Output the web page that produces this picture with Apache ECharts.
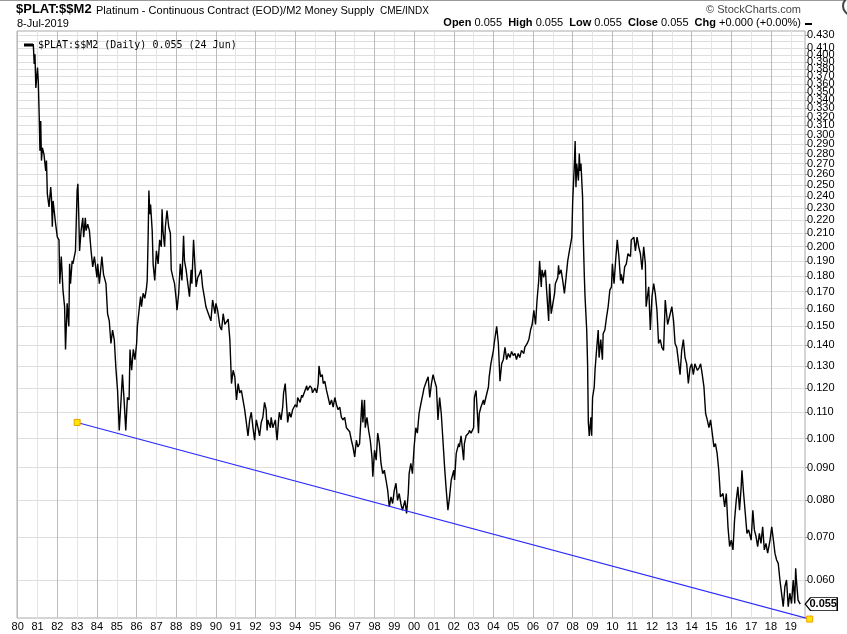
<!DOCTYPE html>
<html>
<head>
<meta charset="utf-8">
<script src="https://cdn.jsdelivr.net/npm/echarts@6/dist/echarts.min.js"></script>
<style>
html,body{margin:0;padding:0;background:#fff;}
#chart{width:847px;height:634px;}
</style>
</head>
<body>
<div id="chart"></div>
<script>
// ticks
var yTicks = [0.060,0.070,0.080,0.090,0.100,0.110,0.120,0.130,0.140,0.150,0.160,0.170,0.180,0.190,0.200,
	0.210,0.220,0.230,0.240,0.250,0.260,0.270,0.280,0.290,0.300,0.310,0.320,0.330,0.340,0.350,
	0.360,0.370,0.380,0.390,0.400,0.410,0.420,0.430];
var yearTicks = ['1980-01-01','1981-01-01','1982-01-01','1983-01-01','1984-01-01','1985-01-01','1986-01-01','1987-01-01',
	'1988-01-01','1989-01-01','1990-01-01','1991-01-01','1992-01-01','1993-01-01','1994-01-01','1995-01-01',
	'1996-01-01','1997-01-01','1998-01-01','1999-01-01','2000-01-01','2001-01-01','2002-01-01','2003-01-01',
	'2004-01-01','2005-01-01','2006-01-01','2007-01-01','2008-01-01','2009-01-01','2010-01-01','2011-01-01',
	'2012-01-01','2013-01-01','2014-01-01','2015-01-01','2016-01-01','2017-01-01','2018-01-01','2019-01-01'];

// trend line drawn by hand on the chart
var trendLine = [['1983-01-01', 0.106], ['2019-12-15', 0.0521]];

var lastDate = '2019-06-24';
var lastValue = 0.055;

// $PLAT:$$M2 ratio
var ratio = [
['1980-10-15',0.416],['1980-11-01',0.387],['1980-11-15',0.401],['1980-12-01',0.355],['1981-01-01',0.382],
['1981-01-15',0.364],['1981-02-01',0.321],['1981-02-15',0.283],['1981-03-01',0.315],['1981-03-15',0.273],
['1981-04-01',0.286],['1981-05-01',0.279],['1981-06-01',0.263],['1981-06-15',0.273],['1981-07-01',0.242],
['1981-08-01',0.231],['1981-09-01',0.248],['1981-09-15',0.239],['1981-10-01',0.215],['1981-10-15',0.236],
['1981-12-01',0.217],['1982-01-01',0.207],['1982-02-01',0.205],['1982-02-15',0.175],['1982-03-15',0.193],
['1982-04-15',0.171],['1982-05-15',0.161],['1982-06-01',0.138],['1982-07-01',0.163],['1982-08-01',0.150],
['1982-08-15',0.188],['1982-09-01',0.175],['1982-10-01',0.190],['1982-10-15',0.188],['1982-12-01',0.197],
['1983-01-01',0.245],['1983-01-15',0.251],['1983-02-01',0.222],['1983-02-15',0.197],['1983-03-15',0.212],
['1983-04-15',0.222],['1983-05-01',0.207],['1983-06-01',0.222],['1983-06-15',0.212],['1983-07-15',0.217],
['1983-08-15',0.212],['1983-09-15',0.197],['1983-10-15',0.186],['1983-11-15',0.193],['1984-01-01',0.179],
['1984-01-15',0.188],['1984-02-15',0.175],['1984-04-01',0.193],['1984-05-01',0.181],['1984-06-15',0.175],
['1984-07-15',0.157],['1984-08-15',0.153],['1984-09-15',0.141],['1984-10-15',0.148],['1984-11-15',0.143],
['1984-12-15',0.129],['1985-01-15',0.119],['1985-02-15',0.103],['1985-03-15',0.113],['1985-04-15',0.126],
['1985-05-15',0.115],['1985-06-15',0.103],['1985-07-15',0.116],['1985-08-15',0.115],['1985-09-01',0.138],
['1985-10-01',0.128],['1985-11-01',0.138],['1985-12-01',0.133],['1986-01-01',0.141],['1986-01-15',0.150],
['1986-02-15',0.159],['1986-03-15',0.167],['1986-04-01',0.161],['1986-05-01',0.169],['1986-06-01',0.166],
['1986-07-01',0.172],['1986-07-15',0.177],['1986-08-01',0.207],['1986-08-15',0.245],['1986-09-01',0.225],
['1986-09-15',0.233],['1986-10-15',0.212],['1986-11-01',0.188],['1986-12-01',0.177],['1987-01-01',0.197],
['1987-02-01',0.188],['1987-03-01',0.205],['1987-04-01',0.200],['1987-04-15',0.229],['1987-05-01',0.212],
['1987-06-01',0.200],['1987-06-15',0.215],['1987-07-15',0.228],['1987-08-15',0.215],['1987-09-15',0.210],
['1987-10-01',0.184],['1987-11-01',0.179],['1987-12-01',0.175],['1988-01-01',0.165],['1988-01-15',0.159],
['1988-02-15',0.169],['1988-03-15',0.188],['1988-04-15',0.177],['1988-05-15',0.208],['1988-06-01',0.190],
['1988-07-01',0.184],['1988-08-01',0.175],['1988-09-01',0.167],['1988-10-01',0.184],['1988-10-15',0.175],
['1988-11-15',0.205],['1988-12-15',0.184],['1989-01-01',0.173],['1989-02-01',0.179],['1989-03-01',0.181],
['1989-04-01',0.184],['1989-05-01',0.173],['1989-06-01',0.167],['1989-07-01',0.161],['1989-08-15',0.157],
['1989-10-01',0.153],['1989-11-01',0.165],['1989-12-15',0.157],['1990-01-01',0.163],['1990-02-01',0.159],
['1990-03-15',0.150],['1990-04-15',0.148],['1990-05-15',0.157],['1990-06-15',0.151],['1990-07-15',0.150],
['1990-08-15',0.154],['1990-09-15',0.143],['1990-10-15',0.122],['1990-11-15',0.128],['1990-12-15',0.125],
['1991-01-15',0.115],['1991-02-15',0.122],['1991-03-15',0.118],['1991-04-15',0.119],['1991-05-15',0.115],
['1991-06-15',0.111],['1991-07-15',0.106],['1991-08-15',0.101],['1991-09-15',0.107],['1991-10-15',0.110],
['1991-11-15',0.104],['1991-12-15',0.0994],['1992-01-15',0.107],['1992-02-15',0.104],['1992-03-15',0.101],
['1992-04-15',0.106],['1992-05-15',0.108],['1992-06-15',0.114],['1992-07-15',0.111],['1992-08-01',0.103],
['1992-08-15',0.107],['1992-10-01',0.104],['1992-10-15',0.108],['1992-11-15',0.104],['1993-01-01',0.107],
['1993-01-15',0.103],['1993-02-01',0.0994],['1993-03-01',0.107],['1993-03-15',0.110],['1993-04-15',0.107],
['1993-05-15',0.112],['1993-06-01',0.118],['1993-07-01',0.122],['1993-08-01',0.111],['1993-08-15',0.106],
['1993-09-15',0.110],['1993-10-15',0.108],['1993-11-15',0.111],['1994-01-01',0.113],['1994-02-01',0.112],
['1994-02-15',0.116],['1994-04-01',0.114],['1994-05-01',0.117],['1994-05-15',0.116],['1994-07-01',0.119],
['1994-08-01',0.121],['1994-08-15',0.119],['1994-10-01',0.121],['1994-11-01',0.120],['1994-11-15',0.118],
['1995-01-01',0.120],['1995-02-01',0.118],['1995-03-01',0.122],['1995-03-15',0.130],['1995-04-15',0.125],
['1995-05-15',0.126],['1995-06-01',0.122],['1995-07-01',0.123],['1995-08-01',0.119],['1995-09-01',0.116],
['1995-10-01',0.113],['1995-11-01',0.115],['1995-12-01',0.112],['1996-01-01',0.116],['1996-02-01',0.113],
['1996-03-01',0.111],['1996-04-01',0.112],['1996-05-01',0.108],['1996-06-01',0.107],['1996-07-01',0.108],
['1996-08-01',0.104],['1996-09-01',0.104],['1996-10-01',0.1025],['1996-11-01',0.0994],['1996-12-01',0.0970],
['1997-01-01',0.0936],['1997-02-01',0.0994],['1997-03-01',0.0970],['1997-04-01',0.0982],['1997-05-15',0.115],
['1997-06-01',0.106],['1997-07-01',0.115],['1997-07-15',0.104],['1997-08-15',0.108],['1997-09-15',0.103],
['1997-10-15',0.0994],['1997-11-15',0.0936],['1997-12-01',0.0871],['1998-01-01',0.0959],['1998-02-01',0.0925],
['1998-03-01',0.102],['1998-04-01',0.0982],['1998-05-01',0.0914],['1998-06-01',0.0881],['1998-07-01',0.0892],
['1998-08-01',0.0861],['1998-09-01',0.0830],['1998-10-01',0.0781],['1998-11-01',0.0810],['1998-12-01',0.0791],
['1999-01-01',0.0830],['1999-02-01',0.0851],['1999-03-01',0.0800],['1999-04-01',0.0820],['1999-05-01',0.0791],
['1999-06-01',0.0772],['1999-07-15',0.0800],['1999-08-15',0.0763],['1999-09-15',0.0820],['1999-10-01',0.0881],
['1999-11-01',0.0914],['1999-12-01',0.0881],['2000-01-01',0.0970],['2000-02-01',0.104],['2000-03-01',0.102],
['2000-04-01',0.1095],['2000-05-01',0.113],['2000-06-15',0.118],['2000-07-01',0.120],['2000-08-15',0.123],
['2000-09-15',0.125],['2000-10-15',0.116],['2000-11-15',0.122],['2000-12-15',0.126],['2001-01-15',0.123],
['2001-02-15',0.1205],['2001-03-15',0.107],['2001-04-15',0.116],['2001-05-15',0.1095],['2001-06-15',0.0994],
['2001-07-15',0.0903],['2001-08-15',0.0830],['2001-09-15',0.0772],['2001-10-15',0.0810],['2001-11-15',0.0861],
['2002-01-01',0.0892],['2002-01-15',0.0861],['2002-02-15',0.0948],['2002-04-01',0.0982],['2002-04-15',0.0970],
['2002-05-15',0.101],['2002-07-01',0.0925],['2002-07-15',0.0982],['2002-08-15',0.101],['2002-10-01',0.102],
['2002-10-15',0.103],['2002-11-15',0.102],['2003-01-01',0.104],['2003-01-15',0.116],['2003-02-15',0.119],
['2003-04-01',0.102],['2003-04-15',0.1095],['2003-05-15',0.112],['2003-07-01',0.115],['2003-07-15',0.113],
['2003-08-15',0.116],['2003-10-01',0.1205],['2003-10-15',0.125],['2003-11-15',0.131],['2004-01-01',0.1375],
['2004-01-15',0.141],['2004-03-01',0.150],['2004-04-01',0.141],['2004-05-01',0.123],['2004-06-01',0.131],
['2004-07-01',0.133],['2004-08-01',0.139],['2004-09-01',0.133],['2004-10-01',0.136],['2004-11-01',0.134],
['2004-12-01',0.137],['2005-01-01',0.135],['2005-02-01',0.136],['2005-03-01',0.133],['2005-04-01',0.136],
['2005-05-01',0.134],['2005-06-01',0.1375],['2005-07-15',0.136],['2005-08-01',0.139],['2005-09-15',0.141],
['2005-10-15',0.143],['2005-11-15',0.148],['2005-12-15',0.151],['2006-01-15',0.159],['2006-02-15',0.151],
['2006-03-15',0.165],['2006-04-15',0.177],['2006-05-01',0.190],['2006-06-01',0.173],['2006-06-15',0.184],
['2006-07-15',0.179],['2006-08-15',0.184],['2006-09-15',0.167],['2006-10-15',0.153],['2006-11-01',0.175],
['2006-12-01',0.157],['2007-01-01',0.163],['2007-02-01',0.169],['2007-02-15',0.175],['2007-04-01',0.179],
['2007-04-15',0.187],['2007-05-01',0.181],['2007-06-01',0.184],['2007-07-01',0.177],['2007-08-01',0.169],
['2007-09-01',0.179],['2007-10-01',0.190],['2007-11-01',0.197],['2007-11-15',0.200],['2007-12-15',0.207],
['2008-01-01',0.236],['2008-02-01',0.270],['2008-02-15',0.293],['2008-03-01',0.248],['2008-03-15',0.270],
['2008-04-15',0.254],['2008-05-01',0.280],['2008-05-15',0.263],['2008-06-01',0.270],['2008-07-01',0.239],
['2008-07-15',0.205],['2008-08-01',0.181],['2008-08-15',0.167],['2008-09-15',0.148],['2008-10-01',0.131],
['2008-10-15',0.106],['2008-11-01',0.101],['2008-12-01',0.108],['2008-12-15',0.101],['2009-01-01',0.116],
['2009-02-01',0.1205],['2009-02-15',0.128],['2009-03-15',0.1375],['2009-04-15',0.148],['2009-05-01',0.134],
['2009-06-01',0.143],['2009-07-01',0.133],['2009-07-15',0.146],['2009-08-15',0.148],['2009-09-15',0.155],
['2009-10-15',0.161],['2009-11-15',0.171],['2009-12-15',0.173],['2010-01-01',0.188],['2010-02-01',0.175],
['2010-03-01',0.190],['2010-04-01',0.205],['2010-05-01',0.193],['2010-06-01',0.177],['2010-06-15',0.181],
['2010-07-15',0.175],['2010-08-15',0.186],['2010-09-15',0.188],['2010-10-15',0.195],['2010-12-01',0.193],
['2010-12-15',0.205],['2011-02-01',0.207],['2011-03-01',0.197],['2011-04-01',0.207],['2011-05-01',0.200],
['2011-06-01',0.195],['2011-07-01',0.184],['2011-08-01',0.200],['2011-09-01',0.188],['2011-09-15',0.161],
['2011-10-01',0.165],['2011-11-01',0.173],['2011-12-01',0.148],['2012-01-01',0.167],['2012-02-01',0.175],
['2012-03-01',0.169],['2012-04-01',0.159],['2012-05-01',0.141],['2012-06-01',0.143],['2012-07-01',0.139],
['2012-08-01',0.1375],['2012-09-01',0.165],['2012-10-15',0.151],['2012-11-01',0.150],['2012-12-01',0.157],
['2013-01-01',0.161],['2013-02-01',0.153],['2013-03-01',0.141],['2013-04-01',0.139],['2013-05-01',0.139],
['2013-06-01',0.126],['2013-07-01',0.1375],['2013-08-01',0.143],['2013-09-01',0.134],['2013-10-01',0.131],
['2013-11-01',0.122],['2013-12-01',0.129],['2014-01-01',0.131],['2014-02-01',0.126],['2014-03-01',0.131],
['2014-04-15',0.128],['2014-05-15',0.129],['2014-06-15',0.131],['2014-07-15',0.126],['2014-08-15',0.1205],
['2014-09-15',0.1095],['2014-10-15',0.107],['2014-11-15',0.104],['2014-12-15',0.107],['2015-01-15',0.102],
['2015-02-15',0.0970],['2015-03-15',0.0982],['2015-04-15',0.0948],['2015-05-15',0.0892],['2015-06-15',0.0810],
['2015-08-01',0.0820],['2015-09-01',0.0781],['2015-10-01',0.0820],['2015-11-01',0.0727],['2015-12-01',0.0677],
['2016-01-01',0.0693],['2016-02-01',0.0669],['2016-03-01',0.0745],['2016-04-01',0.0800],['2016-05-01',0.0840],
['2016-06-01',0.0772],['2016-07-01',0.0840],['2016-07-15',0.0892],['2016-08-15',0.0820],['2016-09-15',0.0763],
['2016-10-15',0.0710],['2016-11-15',0.0719],['2017-01-01',0.0693],['2017-02-01',0.0772],['2017-03-01',0.0719],
['2017-04-01',0.0702],['2017-05-01',0.0677],['2017-06-01',0.0710],['2017-07-01',0.0685],['2017-08-01',0.0727],
['2017-09-01',0.0669],['2017-10-01',0.0685],['2017-11-01',0.0661],['2017-12-15',0.0693],['2018-01-15',0.0727],
['2018-02-15',0.0693],['2018-03-15',0.0661],['2018-04-15',0.0645],['2018-05-15',0.0637],['2018-06-15',0.0600],
['2018-07-15',0.0572],['2018-08-15',0.0545],['2018-09-15',0.0586],['2018-10-15',0.0600],['2018-11-15',0.0545],
['2018-12-15',0.0572],['2019-01-15',0.0551],['2019-02-15',0.0600],['2019-03-15',0.0551],['2019-04-01',0.0626],
['2019-04-15',0.0600],['2019-05-15',0.0558],['2019-06-24',0.055]
];

var FONT = '"Liberation Sans", Arial, sans-serif';
var toTime = function(s) { return +echarts.time.parse(s); };
var toPoints = function(list) { return list.map(function(p) { return [toTime(p[0]), p[1]]; }); };
var yearValues = yearTicks.map(toTime);

var chart = echarts.init(document.getElementById('chart'));

var option = {
	animation: false,
	backgroundColor: '#fff',
	grid: { left: 17, right: 42, top: 31, bottom: 16, show: true, borderColor: '#aaa', borderWidth: 1 },
	legend: {
		data: ['$PLAT:$$M2'],
		left: 19, top: 35,
		icon: 'rect', itemWidth: 9, itemHeight: 3, itemGap: 4,
		textStyle: { fontFamily: '"DejaVu Sans Mono", monospace', fontSize: 10, color: '#000' },
		formatter: function(name) { return name + ' (Daily) ' + lastValue.toFixed(3) + ' (24 Jun)'; }
	},
	xAxis: {
		type: 'value',
		min: toTime('1979-12-20'),
		max: toTime('2019-09-20'),
		axisLine: { show: false },
		axisTick: { show: false, customValues: yearValues },
		axisLabel: {
			customValues: yearValues, fontFamily: FONT, fontSize: 11, color: '#000', margin: 3, hideOverlap: false,
			formatter: function(v) { var y = new Date(v).getFullYear() % 100; return (y < 10 ? '0' : '') + y; }
		},
		splitLine: { show: true, lineStyle: { color: ['#bcbcbc', '#e4e4e4'], width: 1 } }
	},
	yAxis: {
		type: 'log', logBase: 10, position: 'right',
		min: 0.0523, max: 0.436,
		axisLine: { show: false },
		axisTick: { show: true, customValues: yTicks, length: 3, lineStyle: { color: '#999' } },
		axisLabel: {
			customValues: yTicks, fontFamily: FONT, fontSize: 11, color: '#000', margin: 2, hideOverlap: false,
			showMinLabel: true, showMaxLabel: true,
			formatter: function(v) { return (+v).toFixed(3); }
		},
		splitLine: { show: true, lineStyle: { color: '#dedede', width: 1 } }
	},
	graphic: [
		{ type: 'line', shape: { x1: 0, y1: 0.5, x2: 847, y2: 0.5 }, style: { stroke: '#999', lineWidth: 1 } },
		{ type: 'circle', shape: { cx: 852, cy: 6, r: 9 }, style: { fill: '#fff', stroke: '#444', lineWidth: 2 } },
		{ type: 'text', left: 16, top: 3, style: { text: '$PLAT:$$M2', font: 'bold 13px ' + FONT, fill: '#000' } },
		{ type: 'text', left: 96, top: 5, style: { text: 'Platinum - Continuous Contract (EOD)/M2 Money Supply', font: '11px ' + FONT, fill: '#000' } },
		{ type: 'text', left: 380, top: 6, style: { text: 'CME/INDX', font: '10px ' + FONT, fill: '#000' } },
		{ type: 'text', left: 17, top: 18, style: { text: '8-Jul-2019', font: '11px ' + FONT, fill: '#000' } },
		{ type: 'text', right: 46, top: 4, style: { text: '\u00a9 StockCharts.com', font: '11px ' + FONT, fill: '#444' } },
		{ type: 'text', right: 46, top: 17, style: {
			text: '{b|Open} 0.055  {b|High} 0.055  {b|Low} 0.055  {b|Close} 0.055  {b|Chg} +0.000 (+0.00%)',
			font: '11px ' + FONT, fill: '#000',
			rich: { b: { fontWeight: 'bold', fontSize: 11, fontFamily: FONT } }
		} },
		{ type: 'rect', shape: { x: 805, y: 23, width: 7, height: 2 }, style: { fill: '#000' } }
	],
	series: [
		{
			name: '$PLAT:$$M2',
			type: 'line',
			data: toPoints(ratio),
			symbol: 'none',
			showSymbol: false,
			lineStyle: { color: '#000', width: 1.4 },
			itemStyle: { color: '#000' },
			z: 3,
			markPoint: {
				symbol: 'path://M0,6 L6,0 L36,0 L36,12 L6,12 Z',
				symbolSize: [32, 13],
				symbolOffset: [21, 0],
				symbolKeepAspect: false,
				itemStyle: { color: '#fff', borderColor: '#000', borderWidth: 1 },
				label: { show: true, position: 'inside', offset: [2, 0], formatter: lastValue.toFixed(3), fontFamily: FONT, fontWeight: 'bold', fontSize: 11, color: '#000' },
				data: [{ coord: [toTime(lastDate), lastValue] }]
			}
		},
		{
			name: 'trend',
			type: 'line',
			data: toPoints(trendLine),
			symbol: 'rect',
			symbolSize: 6,
			showSymbol: true,
			clip: false,
			lineStyle: { color: '#2a2aff', width: 1.2 },
			itemStyle: { color: '#ffe600', borderColor: '#f0a000', borderWidth: 1 },
			z: 4
		}
	]
};

chart.setOption(option);
</script>
</body>
</html>
